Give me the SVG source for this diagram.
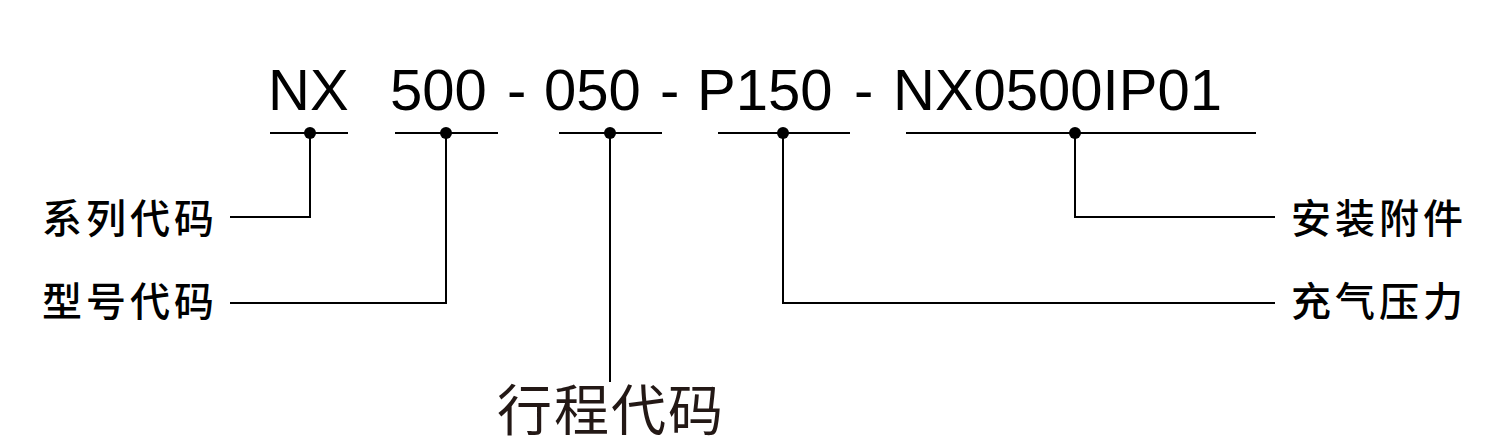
<svg xmlns="http://www.w3.org/2000/svg" width="1499" height="444" viewBox="0 0 1499 444">
<style>
.code{font-family:"Liberation Sans",Arial,sans-serif;font-size:58px;fill:#000}
.lbl{font-family:"Noto Sans CJK SC","Noto Sans",sans-serif;font-size:40px;font-weight:500;fill:#000;letter-spacing:4px}
.big{font-family:"Noto Sans CJK SC","Noto Sans",sans-serif;font-size:55px;fill:#231815;letter-spacing:2px}
.ln{stroke:#000;stroke-width:2;fill:none}
.dot{fill:#000}
</style>
<rect width="1499" height="444" fill="#fff"/>
<g id="code">
<text class="code" x="268" y="110">NX</text>
<text class="code" x="390" y="110">500</text>
<text class="code" x="507" y="110">-</text>
<text class="code" x="544" y="110">050</text>
<text class="code" x="660" y="110">-</text>
<text class="code" x="697" y="110">P150</text>
<text class="code" x="854" y="110">-</text>
<text class="code" x="893" y="110">NX0500IP01</text>
</g>
<g id="underlines">
<line class="ln" x1="270" y1="133" x2="348" y2="133"/>
<line class="ln" x1="395" y1="133" x2="498" y2="133"/>
<line class="ln" x1="559" y1="133" x2="662" y2="133"/>
<line class="ln" x1="718" y1="133" x2="850" y2="133"/>
<line class="ln" x1="906" y1="133" x2="1256" y2="133"/>
</g>
<g id="connectors">
<polyline class="ln" points="310,133 310,217 230,217"/>
<polyline class="ln" points="446,133 446,303 230,303"/>
<polyline class="ln" points="610,133 610,382"/>
<polyline class="ln" points="783,133 783,303 1275,303"/>
<polyline class="ln" points="1075,133 1075,217 1275,217"/>
<circle class="dot" cx="310" cy="133" r="6"/>
<circle class="dot" cx="446" cy="133" r="6"/>
<circle class="dot" cx="610" cy="133" r="6"/>
<circle class="dot" cx="783" cy="133" r="6"/>
<circle class="dot" cx="1075" cy="133" r="6"/>
</g>
<g id="n-series"><text class="lbl" x="42" y="233">系列代码</text></g>
<g id="n-model"><text class="lbl" x="42" y="316">型号代码</text></g>
<g id="n-stroke"><text class="big" x="497" y="430">行程代码</text></g>
<g id="n-mount"><text class="lbl" x="1291" y="233">安装附件</text></g>
<g id="n-pressure"><text class="lbl" x="1291" y="316">充气压力</text></g>
</svg>
